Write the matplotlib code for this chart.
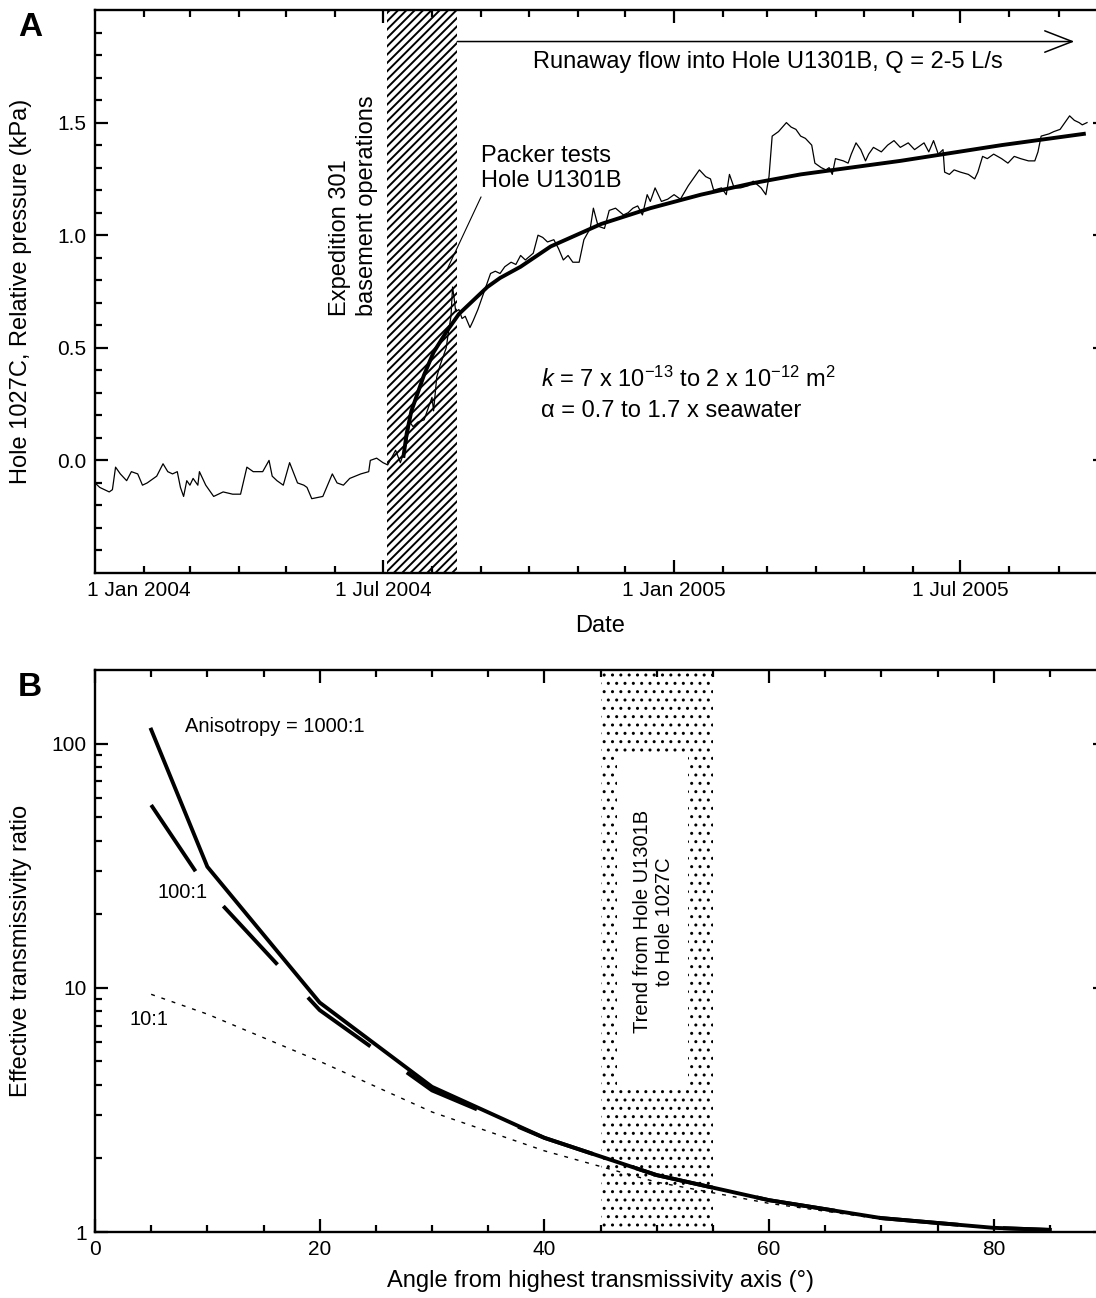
import numpy as np
import pandas as pd
import matplotlib
matplotlib.use('Agg')
import matplotlib.pyplot as plt
from matplotlib.ticker import FixedLocator, FixedFormatter, NullFormatter

plt.rcParams['font.family'] = ['Liberation Sans', 'DejaVu Sans']
plt.rcParams['mathtext.fontset'] = 'custom'
plt.rcParams['mathtext.rm'] = 'Liberation Sans'
plt.rcParams['mathtext.it'] = 'Liberation Sans:italic'

# PANEL A DATA: days since 1 Jan 2004, relative pressure (kPa)
pressure_days = [0, 3, 9, 11, 13, 16, 20, 23, 27, 30, 33, 39, 43, 46, 49, 52, 54, 56, 58, 60,
                 62, 65, 66, 70, 75, 81, 87, 92, 96, 100, 106, 110, 112, 115, 119, 123, 128, 132,
                 134, 137, 144, 150, 153, 157, 161, 168, 173, 174, 178, 182, 185, 190, 193, 195,
                 197, 199, 201, 204, 208, 211, 213, 214, 216, 218, 222, 223, 225, 226, 227, 228,
                 230, 232, 234, 237, 239, 242, 245, 248, 250, 253, 256, 259, 263, 266, 269, 272,
                 277, 280, 283, 286, 290, 293, 296, 299, 302, 306, 309, 313, 315, 318, 322, 325,
                 329, 334, 337, 340, 343, 346, 349, 351, 354, 358, 362, 366, 370, 375, 378, 382,
                 386, 389, 391, 396, 399, 401, 404, 408, 413, 416, 421, 424, 426, 428, 432, 437,
                 440, 443, 446, 449, 453, 455, 459, 462, 464, 466, 468, 473, 476, 478, 481, 484,
                 487, 489, 492, 497, 501, 505, 509, 514, 518, 520, 524, 527, 530, 533, 536, 537,
                 540, 543, 547, 552, 556, 558, 561, 564, 568, 573, 577, 581, 585, 590, 594, 596,
                 598, 603, 606, 610, 613, 616, 619, 622, 624, 627]
pressure_kpa = [-0.10, -0.12, -0.14, -0.13, -0.03, -0.06, -0.09, -0.05, -0.06, -0.11, -0.10, -0.07,
                -0.015, -0.05, -0.06, -0.05, -0.12, -0.16, -0.09, -0.11, -0.08, -0.11, -0.05, -0.11,
                -0.16, -0.14, -0.15, -0.15, -0.03, -0.05, -0.05, 0.00, -0.07, -0.09, -0.11, -0.01,
                -0.10, -0.11, -0.12, -0.17, -0.16, -0.06, -0.10, -0.11, -0.08, -0.06, -0.05, 0.00,
                0.01, -0.01, -0.02, 0.045, -0.01, 0.03, 0.08, 0.17, 0.15, 0.17, 0.18, 0.24, 0.28,
                0.22, 0.37, 0.42, 0.50, 0.55, 0.64, 0.77, 0.72, 0.66, 0.67, 0.63, 0.64, 0.59, 0.62,
                0.67, 0.73, 0.79, 0.83, 0.84, 0.83, 0.86, 0.88, 0.87, 0.91, 0.89, 0.92, 1.00, 0.99,
                0.97, 0.98, 0.94, 0.89, 0.91, 0.88, 0.88, 0.98, 1.03, 1.12, 1.04, 1.03, 1.11, 1.12,
                1.09, 1.10, 1.12, 1.13, 1.09, 1.18, 1.15, 1.21, 1.15, 1.16, 1.18, 1.16, 1.22, 1.25,
                1.29, 1.26, 1.25, 1.20, 1.21, 1.18, 1.27, 1.21, 1.21, 1.22, 1.24, 1.21, 1.18, 1.26,
                1.44, 1.46, 1.50, 1.48, 1.47, 1.44, 1.43, 1.40, 1.32, 1.30, 1.29, 1.30, 1.27, 1.34,
                1.33, 1.32, 1.36, 1.41, 1.38, 1.33, 1.36, 1.39, 1.37, 1.40, 1.42, 1.39, 1.41, 1.38,
                1.39, 1.41, 1.37, 1.42, 1.36, 1.38, 1.28, 1.27, 1.29, 1.28, 1.27, 1.25, 1.28, 1.35,
                1.34, 1.36, 1.34, 1.32, 1.35, 1.34, 1.33, 1.33, 1.37, 1.44, 1.45, 1.46, 1.47, 1.50,
                1.53, 1.51, 1.50, 1.49, 1.50]

fit_days = [195, 197, 200, 204, 208, 214, 222, 230, 239, 248, 256, 269, 288, 320, 351, 383,
            415, 446, 509, 573, 625]
fit_kpa = [0.02, 0.12, 0.22, 0.30, 0.38, 0.48, 0.57, 0.65, 0.71, 0.77, 0.81, 0.86, 0.95, 1.05,
           1.12, 1.18, 1.23, 1.27, 1.33, 1.40, 1.45]

ops_start, ops_end = 184.5, 229          # Expedition 301 basement operations
date_ticks = ['2004-01-01', '2004-07-01', '2005-01-01', '2005-07-01']
date_labels = ['1 Jan 2004', '1 Jul 2004', '1 Jan 2005', '1 Jul 2005']

# PANEL B DATA: angle (deg) vs effective transmissivity ratio
angle_deg = [5, 10, 20, 30, 40, 50, 60, 70, 80, 85]
ratio_1000 = [114, 31.3, 8.7, 3.93, 2.43, 1.71, 1.35, 1.14, 1.04, 1.02]
ratio_100 = [56, 25.4, 8.1, 3.8, 2.43, 1.71, 1.35, 1.14, 1.04, 1.02]
ratio_10 = [9.4, 7.8, 5.0, 3.1, 2.15, 1.6, 1.31, 1.13, 1.04, 1.01]
trend_lo, trend_hi = 45, 55

W, H = 1096, 1298
fig = plt.figure(figsize=(W / 100, H / 100), dpi=100)

t0 = pd.Timestamp('2004-01-01')
def to_day(s):
    return (pd.Timestamp(s) - t0).days

def style_axes(ax):
    for sp in ax.spines.values():
        sp.set_linewidth(1.7)
    ax.tick_params(which='both', direction='in', top=True, right=True, width=1.6,
                   labelsize=15, pad=6)
    ax.tick_params(which='major', length=9.5)
    ax.tick_params(which='minor', length=5)

def hatched_span(ax, x0, x1, hatch, hlw):
    with plt.rc_context({'hatch.linewidth': hlw}):
        span = ax.axvspan(x0, x1, facecolor='white', edgecolor='black', hatch=hatch,
                          lw=0, zorder=0)
    if hasattr(span, 'set_hatch_linewidth'):
        span.set_hatch_linewidth(hlw)
    return span

# ---------------- Panel A ----------------
ax1 = fig.add_axes([95 / W, (H - 573) / H, 1011 / W, 563 / H])
hatched_span(ax1, ops_start, ops_end, '////', 1.4)
ax1.plot(pressure_days, pressure_kpa, color='black', lw=0.9, zorder=2)
ax1.plot(fit_days, fit_kpa, color='black', lw=2.8, zorder=3)

ax1.set_xlim(0, to_day('2005-10-01'))
ax1.set_ylim(-0.5, 2.0)
month_days = [to_day(d) for d in pd.date_range('2004-02-01', '2005-09-01', freq='MS')]
major_days = [to_day(d) for d in date_ticks[1:]]
ax1.xaxis.set_major_locator(FixedLocator(major_days))
ax1.xaxis.set_major_formatter(FixedFormatter(date_labels[1:]))
ax1.xaxis.set_minor_locator(FixedLocator([d for d in month_days if d not in major_days]))
ax1.yaxis.set_major_locator(FixedLocator([0, 0.5, 1.0, 1.5]))
ax1.yaxis.set_major_formatter(FixedFormatter(['0.0', '0.5', '1.0', '1.5']))
ax1.yaxis.set_minor_locator(FixedLocator(np.round(np.arange(-0.4, 2.0, 0.1), 2)))
style_axes(ax1)
# first date label sits right of the axis corner
ax1.text(to_day('2004-01-29'), -0.535, date_labels[0], ha='center', va='top', fontsize=15)

ax1.set_xlabel('Date', fontsize=17)
ax1.xaxis.set_label_coords(0.5, -0.074)
ax1.set_ylabel('Hole 1027C, Relative pressure (kPa)', fontsize=17)
ax1.yaxis.set_label_coords(-0.062, 0.5)

ax1.text(163.5, 1.13, 'Expedition 301\nbasement operations', rotation=90, ha='center',
         va='center', multialignment='left', fontsize=17, linespacing=1.3)
ax1.annotate('', xy=(to_day('2005-09-11'), 1.86), xytext=(ops_end, 1.86),
             arrowprops=dict(arrowstyle='->,head_length=0.9,head_width=0.35', lw=1.1,
                             color='black', mutation_scale=22, shrinkA=0, shrinkB=0))
ax1.text(to_day('2005-03-01'), 1.77, 'Runaway flow into Hole U1301B, Q = 2-5 L/s',
         ha='center', va='center', fontsize=17)
ax1.text(244, 1.295, 'Packer tests\nHole U1301B', ha='left', va='center', fontsize=17)
ax1.annotate('', xy=(222, 0.84), xytext=(244, 1.17),
             arrowprops=dict(arrowstyle='-', lw=0.8, color='black', shrinkA=0, shrinkB=0))
ax1.text(282, 0.36, r'$k$ = 7 x 10$^{-13}$ to 2 x 10$^{-12}$ m$^{2}$', ha='left',
         va='center', fontsize=17)
ax1.text(282, 0.22, 'α = 0.7 to 1.7 x seawater', ha='left', va='center', fontsize=17)

# ---------------- Panel B ----------------
ax2 = fig.add_axes([95 / W, (H - 1232) / H, 1011 / W, 562 / H])
ax2.set_yscale('log')
hatched_span(ax2, trend_lo, trend_hi, '..', 1.0)
ax2.fill_between([46.5, 52.8], 3.8, 92, color='white', lw=0, zorder=1)

ax2.plot(angle_deg, ratio_1000, color='black', lw=2.8, zorder=3)
ax2.plot(angle_deg, ratio_100, color='black', lw=2.8, ls=(0, (20.5, 11.5)),
         dash_capstyle='butt', zorder=3)
ax2.plot(angle_deg, ratio_10, color='black', lw=1.0, ls=(0, (2.8, 5.0)), zorder=3)

ax2.set_xlim(0, 90)
ax2.set_ylim(1, 200)
ax2.xaxis.set_major_locator(FixedLocator([0, 20, 40, 60, 80]))
ax2.xaxis.set_minor_locator(FixedLocator([a for a in range(5, 90, 5) if a % 20]))
ax2.xaxis.set_major_formatter(FixedFormatter(['0', '20', '40', '60', '80']))
ax2.yaxis.set_major_locator(FixedLocator([1, 10, 100]))
ax2.yaxis.set_major_formatter(FixedFormatter(['1', '10', '100']))
ax2.yaxis.set_minor_locator(FixedLocator([m * 10 ** e for e in (0, 1) for m in range(2, 10)]))
ax2.yaxis.set_minor_formatter(NullFormatter())
style_axes(ax2)

ax2.set_xlabel('Angle from highest transmissivity axis (°)', fontsize=17)
ax2.xaxis.set_label_coords(0.5, -0.068)
ax2.set_ylabel('Effective transmissivity ratio', fontsize=17)
ax2.yaxis.set_label_coords(-0.062, 0.5)

ax2.text(8.0, 117, 'Anisotropy = 1000:1', ha='left', va='center', fontsize=14.5)
ax2.text(5.6, 24.5, '100:1', ha='left', va='center', fontsize=14.5)
ax2.text(3.1, 7.4, '10:1', ha='left', va='center', fontsize=14.5)
ax2.text(49.7, np.sqrt(3.8 * 92), 'Trend from Hole U1301B\nto Hole 1027C', rotation=90,
         ha='center', va='center', multialignment='center', fontsize=14.5, zorder=2)

fig.text(18 / W, 1 - 28 / H, 'A', fontsize=24, fontweight='bold', ha='left', va='center')
fig.text(18 / W, 1 - 688 / H, 'B', fontsize=24, fontweight='bold', ha='left', va='center')

fig.savefig('out.png', dpi=100)
